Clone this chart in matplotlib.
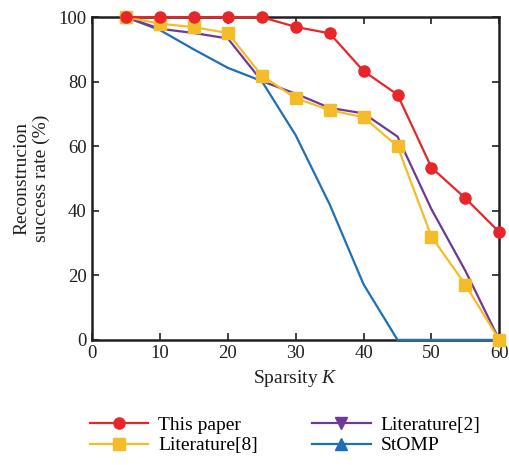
import matplotlib
matplotlib.use("Agg")
import matplotlib.pyplot as plt
from matplotlib.lines import Line2D

plt.rcParams['font.family'] = ['Liberation Serif', 'DejaVu Serif']
plt.rcParams['mathtext.fontset'] = 'custom'
plt.rcParams['mathtext.it'] = 'Liberation Serif:italic'
plt.rcParams['mathtext.rm'] = 'Liberation Serif'

K = [5, 10, 15, 20, 25, 30, 35, 40, 45, 50, 55, 60]
this_paper = [100, 100, 100, 100, 100, 97, 95, 83.3, 76, 53.4, 43.9, 33.4]
lit8 = [100, 98, 96.9, 95.1, 81.9, 74.9, 71.2, 69, 60, 32, 17.1, 0]
lit2 = [100, 96.4, 95.1, 93.4, 80.2, 76.3, 71.9, 70.2, 63, 40.5, 21.4, 0]
stomp = [100, 96, 90, 84.3, 80.2, 63.4, 42, 17.2, 0, 0, 0, 0]

xticks = [0, 10, 20, 30, 40, 50, 60]
yticks = [0, 20, 40, 60, 80, 100]

c_red = '#e8262a'
c_yel = '#f5bc2a'
c_pur = '#6e3896'
c_blu = '#1f6fb5'
c_ax = '#231f20'

fig = plt.figure(figsize=(5.09, 4.65), dpi=100)
ax = fig.add_axes([0.181, 0.269, 0.800, 0.694])

ax.plot(K, stomp, color=c_blu, lw=1.6, clip_on=False, zorder=3)
ax.plot(K, lit2, color=c_pur, lw=1.6, clip_on=False, zorder=4)
ax.plot(K, lit8, color=c_yel, lw=1.6, marker='s', ms=9, clip_on=False, zorder=5)
ax.plot(K, this_paper, color=c_red, lw=1.6, marker='o', ms=8, clip_on=False, zorder=6)

ax.set_xlim(0, 60)
ax.set_ylim(0, 100)
ax.set_xticks(xticks)
ax.set_yticks(yticks)
ax.tick_params(direction='in', length=5, width=1.2, colors=c_ax, labelsize=13.5,
               top=True, right=True, labeltop=False, labelright=False, pad=4)
for t in ax.get_xticklabels() + ax.get_yticklabels():
    t.set_color(c_ax)
for s in ax.spines.values():
    s.set_linewidth(1.8)
    s.set_color(c_ax)

ax.set_xlabel('Sparsity $K$', fontsize=14, color=c_ax, labelpad=4)
ax.set_ylabel('Reconstrucion\nsuccess rate (%)', fontsize=14, color=c_ax, labelpad=6)

handles = [
    Line2D([], [], color=c_red, lw=1.6, marker='o', ms=8),
    Line2D([], [], color=c_yel, lw=1.6, marker='s', ms=9),
    Line2D([], [], color=c_pur, lw=1.6, marker='v', ms=8),
    Line2D([], [], color=c_blu, lw=1.6, marker='^', ms=8),
]
labels = ['This paper', 'Literature[8]', 'Literature[2]', 'StOMP']
fig.legend(handles, labels, loc='upper center', bbox_to_anchor=(0.56, 0.105),
           ncol=2, frameon=False, fontsize=14, handlelength=3.0,
           columnspacing=2.8, labelspacing=0.15, handletextpad=0.5,
           borderaxespad=0, borderpad=0)

fig.savefig('out.png', dpi=100)
